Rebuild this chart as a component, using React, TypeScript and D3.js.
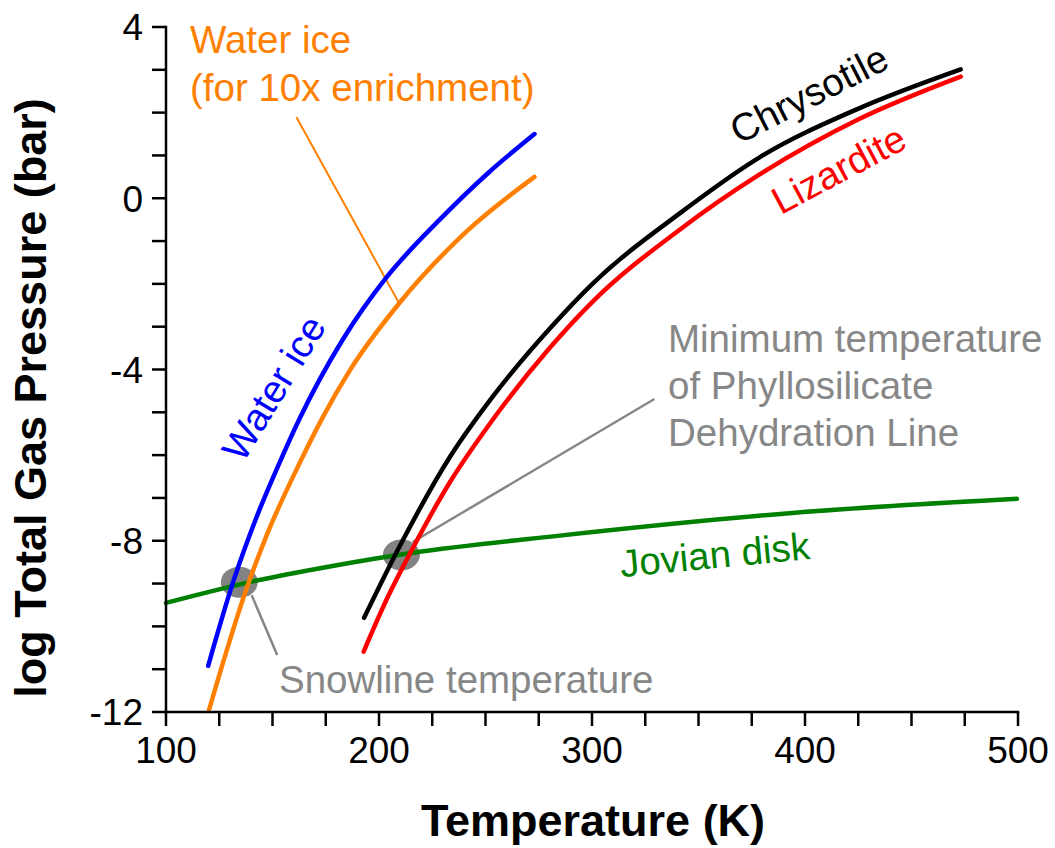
import React from "react";
import * as d3 from "d3";

// ---- data ----
const T_WATER = [119.8, 131.6, 142.5, 152.5, 162.8, 183.0, 203.5, 228.5, 251.9, 273.0];
const P_WATER = [-10.92, -8.95, -7.45, -6.27, -5.14, -3.30, -1.85, -0.50, 0.62, 1.50];

const T_WATER10 = [120.2, 137.8, 147.2, 162.8, 173.0, 186.3, 209.7, 241.0, 273.0];
const P_WATER10 = [-11.95, -9.12, -7.88, -6.18, -5.17, -4.02, -2.44, -0.78, 0.50];

const T_CHRYS = [193.0, 209.7, 233.2, 253.3, 280.1, 300.2, 341.0, 378.5, 425.4, 473.1];
const P_CHRYS = [-9.80, -8.13, -6.05, -4.64, -3.05, -2.0, -0.36, 0.95, 2.10, 3.01];

const T_LIZ = [192.8, 203.5, 215.8, 233.2, 253.3, 280.1, 300.2, 341.0, 378.5, 425.4, 473.1];
const P_LIZ = [-10.59, -9.38, -8.18, -6.64, -5.18, -3.50, -2.42, -0.74, 0.55, 1.85, 2.84];

const T_JOV = [100, 142.5, 176.9, 215.8, 284.8, 394.0, 499.5];
const P_JOV = [-9.45, -8.93, -8.60, -8.28, -7.88, -7.35, -7.02];

const X_TICKS = [100, 125, 150, 175, 200, 225, 250, 275, 300, 325, 350, 375, 400, 425, 450, 475, 500];
const X_LABELS = [100, 200, 300, 400, 500];
const Y_TICKS = [-12, -11, -10, -9, -8, -7, -6, -5, -4, -3, -2, -1, 0, 1, 2, 3, 4];
const Y_LABELS = [-12, -8, -4, 0, 4];

// intersection markers (T, logP)
const SNOWLINE = [134.4, -8.97];
const PHYLLO = [210.5, -8.33];

const FONT = "'Liberation Sans', Arial, Helvetica, sans-serif";
const GRAY = "#878787";
const FS = 38.5;

export default function App() {
  const W = 1055, H = 848;
  const x = d3.scaleLinear().domain([100, 500]).range([166, 1018]);
  const y = d3.scaleLinear().domain([-12, 4]).range([712, 27]);

  const line = d3
    .line<[number, number]>()
    .x((d) => x(d[0]))
    .y((d) => y(d[1]))
    .curve(d3.curveMonotoneX);

  const zip = (a: number[], b: number[]) => a.map((v, i) => [v, b[i]] as [number, number]);

  const series = [
    { t: T_JOV, p: P_JOV, color: "#008000" },
    { t: T_WATER10, p: P_WATER10, color: "#FF8000" },
    { t: T_WATER, p: P_WATER, color: "#0000FF" },
    { t: T_LIZ, p: P_LIZ, color: "#FF0000" },
    { t: T_CHRYS, p: P_CHRYS, color: "#000000" },
  ];

  return (
    <svg
      width={W}
      height={H}
      style={{ position: "absolute", left: 0, top: 0, background: "#fff", display: "block" }}
      fontFamily={FONT}
    >
      <rect width={W} height={H} fill="#fff" />

      {/* markers */}
      <ellipse cx={x(SNOWLINE[0])} cy={y(SNOWLINE[1])} rx={18.5} ry={15.5} fill="#838383" />
      <ellipse cx={x(PHYLLO[0])} cy={y(PHYLLO[1])} rx={18.5} ry={15.5} fill="#838383" />

      {/* leader lines */}
      <line x1={x(161.2)} y1={y(1.9)} x2={x(209.4)} y2={y(-2.45)} stroke="#FF8000" strokeWidth={2} />
      <line x1={x(140.2)} y1={y(-9.27)} x2={x(152.2)} y2={y(-10.67)} stroke={GRAY} strokeWidth={2.5} />
      <line x1={x(215.8)} y1={y(-8.03)} x2={x(329.3)} y2={y(-4.69)} stroke={GRAY} strokeWidth={2.5} />

      {/* curves */}
      {series.map((s, i) => (
        <path
          key={i}
          d={line(zip(s.t, s.p)) || ""}
          fill="none"
          stroke={s.color}
          strokeWidth={4.5}
          strokeLinecap="round"
        />
      ))}

      {/* axes */}
      <line x1={x(100)} y1={y(-12)} x2={x(500)} y2={y(-12)} stroke="#000" strokeWidth={2.5} strokeLinecap="square" />
      <line x1={x(100)} y1={y(-12)} x2={x(100)} y2={y(4)} stroke="#000" strokeWidth={2.5} strokeLinecap="square" />
      {X_TICKS.map((t) => (
        <line key={"xt" + t} x1={x(t)} x2={x(t)} y1={y(-12)} y2={y(-12) + 14} stroke="#000" strokeWidth={2.5} />
      ))}
      {Y_TICKS.map((t) => (
        <line key={"yt" + t} y1={y(t)} y2={y(t)} x1={x(100)} x2={x(100) - 14} stroke="#000" strokeWidth={2.5} />
      ))}
      {X_LABELS.map((t) => (
        <text key={"xl" + t} x={x(t)} y={763} textAnchor="middle" fontSize={37} fill="#000">
          {String(t)}
        </text>
      ))}
      {Y_LABELS.map((t) => (
        <text key={"yl" + t} x={143} y={y(t)} dy="0.36em" textAnchor="end" fontSize={37} fill="#000">
          {String(t)}
        </text>
      ))}

      {/* axis titles */}
      <text x={593} y={836} textAnchor="middle" fontSize={45} fontWeight="bold" fill="#000">
        Temperature (K)
      </text>
      <text transform="translate(46,398) rotate(-90)" textAnchor="middle" fontSize={45} fontWeight="bold" fill="#000">
        log Total Gas Pressure (bar)
      </text>

      {/* annotations */}
      <text x={190} y={53} fontSize={FS} fill="#FF8000">Water ice</text>
      <text x={190} y={101} fontSize={FS} fill="#FF8000">(for 10x enrichment)</text>

      <text x={668} y={352} fontSize={FS} fill={GRAY}>Minimum temperature</text>
      <text x={668} y={399} fontSize={FS} fill={GRAY}>of Phyllosilicate</text>
      <text x={668} y={446} fontSize={FS} fill={GRAY}>Dehydration Line</text>

      <text x={279} y={693} fontSize={FS} fill={GRAY}>Snowline temperature</text>

      <text transform="translate(285,395) rotate(-58.5)" textAnchor="middle" fontSize={FS} fill="#0000FF">
        Water ice
      </text>
      <text transform="translate(815,106) rotate(-27)" textAnchor="middle" fontSize={FS} fill="#000">
        Chrysotile
      </text>
      <text transform="translate(845,181) rotate(-28)" textAnchor="middle" fontSize={FS} fill="#FF0000">
        Lizardite
      </text>
      <text transform="translate(716,568) rotate(-5.5)" textAnchor="middle" fontSize={FS} fill="#008000">
        Jovian disk
      </text>
    </svg>
  );
}
